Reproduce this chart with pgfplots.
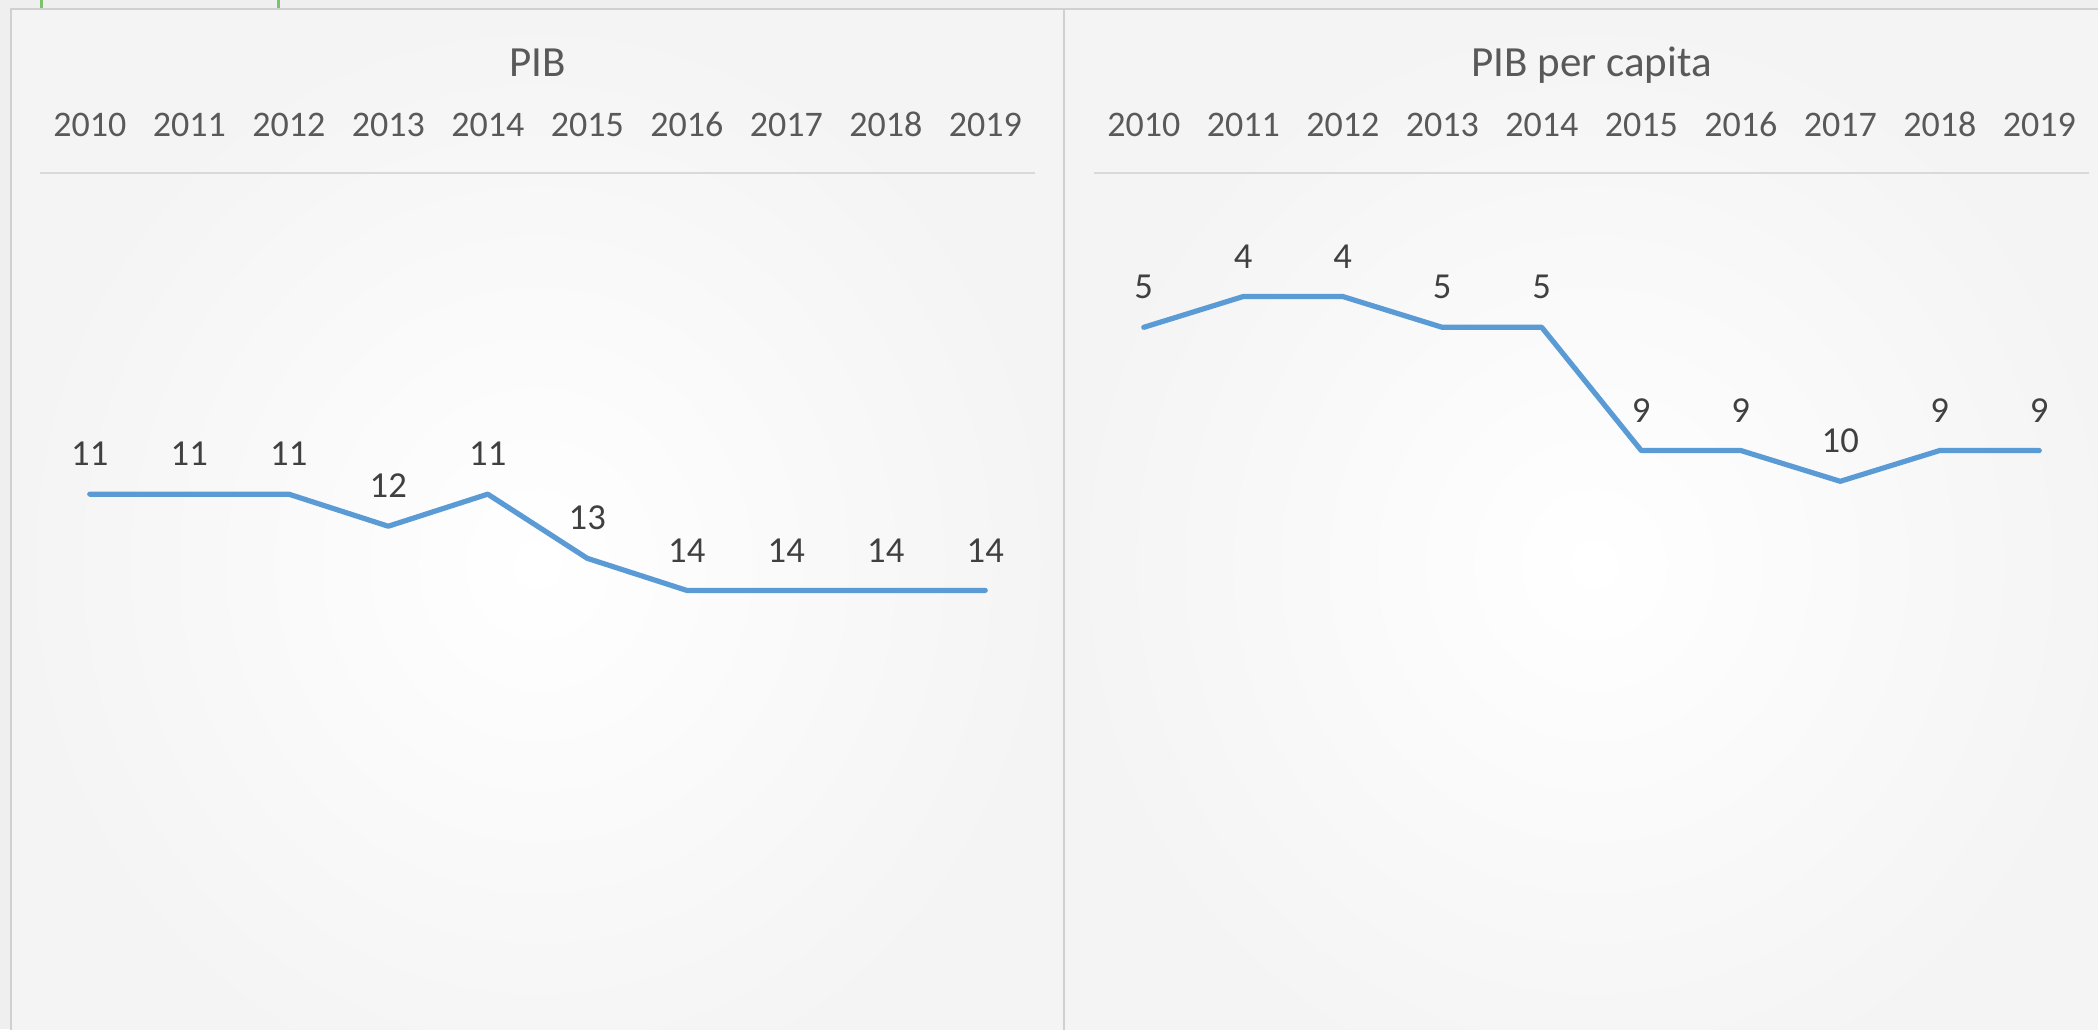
\documentclass[border=0pt]{standalone}
\usepackage{pgfplots}
\pgfplotsset{compat=1.18}
\usepackage{fontspec}
\setmainfont{Carlito}
\definecolor{lineblue}{HTML}{5B9BD5}
\definecolor{ticktext}{HTML}{595959}
\definecolor{labeltext}{HTML}{404040}
\definecolor{gridgray}{HTML}{D9D9D9}
\definecolor{bordergray}{HTML}{D0D0D0}
\definecolor{bggray}{HTML}{EFEFEF}
\definecolor{panelouter}{HTML}{F4F4F4}
\definecolor{selgreen}{HTML}{7DC36B}
\pgfplotsset{
  rankaxis/.style={
    scale only axis, width=497.5pt, height=385pt,
    anchor=north west,
    xmin=-0.5, xmax=9.5, ymax=25,
    y dir=reverse,
    axis line style={draw=none},
    major tick length=0pt,
    xtick={0,...,9},
    xticklabels={2010,2011,2012,2013,2014,2015,2016,2017,2018,2019},
    xticklabel pos=top,
    xticklabel style={anchor=base, yshift=18.6pt, font=\fontsize{18}{20}\selectfont, text=ticktext},
    ymajorgrids, yticklabels={}, grid style={gridgray, line width=1pt},
    every axis title shift=0pt,
    title style={at={(0.5,1)}, anchor=base, yshift=48.3pt, font=\fontsize{21.5}{24}\selectfont, text=ticktext},
    clip=false,
    /pgf/number format/assume math mode=true,
    nodes near coords,
    every node near coord/.append style={anchor=base, yshift=14.2pt, font=\fontsize{18.3}{20}\selectfont, text=labeltext},
  },
  rankline/.style={color=lineblue, line width=2.6pt, line cap=round, line join=round, mark=none},
}
\begin{document}
\begin{tikzpicture}
\useasboundingbox (0,0) rectangle (1049pt,-514.5pt);
\clip (0,0) rectangle (1049pt,-514.5pt);
\fill[bggray] (0,0) rectangle (1049pt,-514.5pt);
\shade[inner color=white, outer color=panelouter] (5.5pt,-4.5pt) rectangle (532pt,-560pt);
\shade[inner color=white, outer color=panelouter] (532pt,-4.5pt) rectangle (1062pt,-560pt);
\draw[bordergray, line width=1pt] (5.5pt,-560pt) -- (5.5pt,-4.5pt) -- (1062pt,-4.5pt);
\draw[bordergray, line width=1pt] (532pt,-4.5pt) -- (532pt,-560pt);
\draw[selgreen, line width=1.5pt] (20.5pt,0) -- (20.5pt,-4pt);
\draw[selgreen, line width=1.5pt] (139pt,0) -- (139pt,-4pt);

\begin{axis}[rankaxis, at={(20pt,-86.65pt)}, ymin=1, ytick={1}, title={PIB}]
\addplot[rankline] coordinates {(0,11) (1,11) (2,11) (3,12) (4,11) (5,13) (6,14) (7,14) (8,14) (9,14)};
\end{axis}

\begin{axis}[rankaxis, at={(547pt,-86.65pt)}, ymin=0, ytick={0}, title={PIB per capita}]
\addplot[rankline] coordinates {(0,5) (1,4) (2,4) (3,5) (4,5) (5,9) (6,9) (7,10) (8,9) (9,9)};
\end{axis}
\end{tikzpicture}
\end{document}
